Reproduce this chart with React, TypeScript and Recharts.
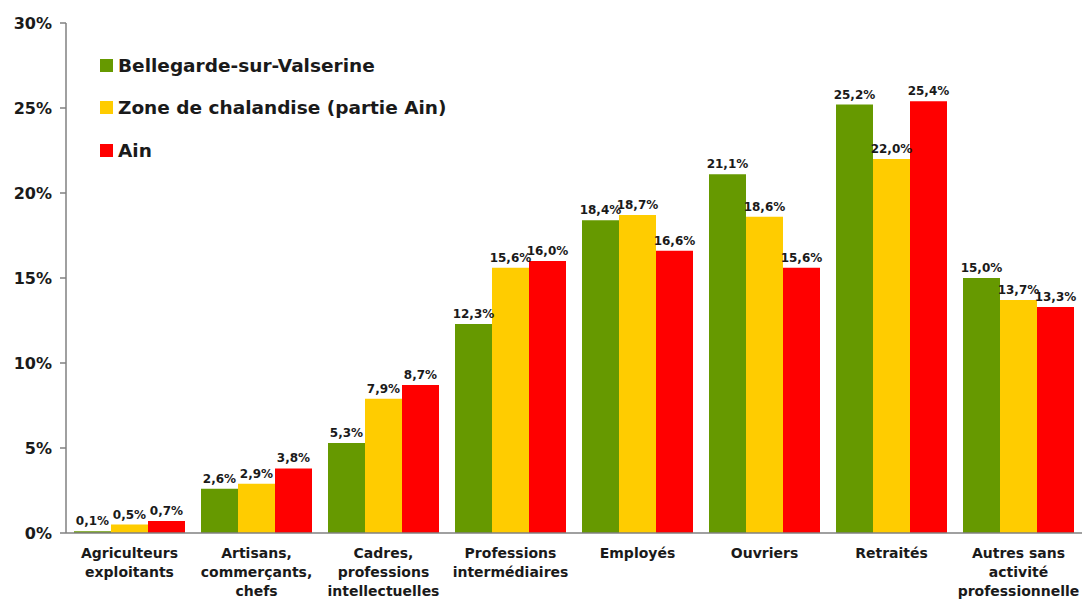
import { BarChart, Bar, XAxis, YAxis, LabelList } from 'recharts';

const categories = [
  'Agriculteurs\nexploitants',
  'Artisans,\ncommerçants,\nchefs',
  'Cadres,\nprofessions\nintellectuelles',
  'Professions\nintermédiaires',
  'Employés',
  'Ouvriers',
  'Retraités',
  'Autres sans\nactivité\nprofessionnelle',
];
const bellegarde = [0.1, 2.6, 5.3, 12.3, 18.4, 21.1, 25.2, 15.0];
const zone = [0.5, 2.9, 7.9, 15.6, 18.7, 18.6, 22.0, 13.7];
const ain = [0.7, 3.8, 8.7, 16.0, 16.6, 15.6, 25.4, 13.3];
const yTicks = [0, 5, 10, 15, 20, 25, 30];

const SERIES = [
  { key: 'bellegarde', name: 'Bellegarde-sur-Valserine', color: '#669900' },
  { key: 'zone', name: 'Zone de chalandise (partie Ain)', color: '#ffcc00' },
  { key: 'ain', name: 'Ain', color: '#ff0000' },
];

const data = categories.map((c, i) => ({
  category: c,
  bellegarde: bellegarde[i],
  zone: zone[i],
  ain: ain[i],
}));

const FONT = '"DejaVu Sans", Verdana, sans-serif';
const AXIS = '#808080';

const fmt = (v: number) => v.toFixed(1).replace('.', ',') + '%';

const CategoryTick = ({ x, y, payload }: any) => {
  const lines = String(payload.value).split('\n');
  return (
    <text
      textAnchor="middle"
      fontFamily={FONT}
      fontWeight="bold"
      fontSize={14}
      fill="#1a1a1a"
    >
      {lines.map((l, i) => (
        <tspan key={i} x={x} y={y + 17 + i * 19}>
          {l}
        </tspan>
      ))}
    </text>
  );
};

const LegendBox = () => (
  <div
    style={{
      position: 'absolute',
      left: 100,
      top: 44,
      fontFamily: FONT,
      fontWeight: 'bold',
      fontSize: 18.5,
      color: '#1a1a1a',
    }}
  >
    {SERIES.map((s) => (
      <div
        key={s.key}
        style={{ display: 'flex', alignItems: 'center', height: 42.5, whiteSpace: 'nowrap' }}
      >
        <span
          style={{ width: 13, height: 13, background: s.color, marginRight: 5, display: 'inline-block' }}
        />
        {s.name}
      </div>
    ))}
  </div>
);

export default function App() {
  return (
    <div style={{ position: 'absolute', left: 0, top: 0, width: 1084, height: 599, background: '#fff' }}>
      <BarChart
        width={1084}
        height={599}
        data={data}
        margin={{ top: 23, right: 2, bottom: 0, left: 0 }}
        barCategoryGap={8}
        barGap={0}
      >
        <XAxis
          dataKey="category"
          height={66}
          interval={0}
          tick={<CategoryTick />}
          tickLine={false}
          axisLine={{ stroke: AXIS, strokeWidth: 1.5 }}
        />
        <YAxis
          width={66}
          domain={[0, 30]}
          ticks={yTicks}
          tickFormatter={(v: number) => `${v}%`}
          tick={{ fontFamily: FONT, fontWeight: 'bold', fontSize: 16, fill: '#1a1a1a' }}
          tickLine={{ stroke: AXIS, strokeWidth: 1.5 }}
          tickSize={6}
          tickMargin={8}
          axisLine={{ stroke: AXIS, strokeWidth: 1.5 }}
        />
        {SERIES.map((s) => (
          <Bar key={s.key} dataKey={s.key} name={s.name} fill={s.color} isAnimationActive={false}>
            <LabelList
              dataKey={s.key}
              position="top"
              offset={6}
              formatter={(v: any) => fmt(Number(v))}
              style={{ fontFamily: FONT, fontWeight: 'bold', fontSize: 12, fill: '#1a1a1a' }}
            />
          </Bar>
        ))}
      </BarChart>
      <LegendBox />
    </div>
  );
}
